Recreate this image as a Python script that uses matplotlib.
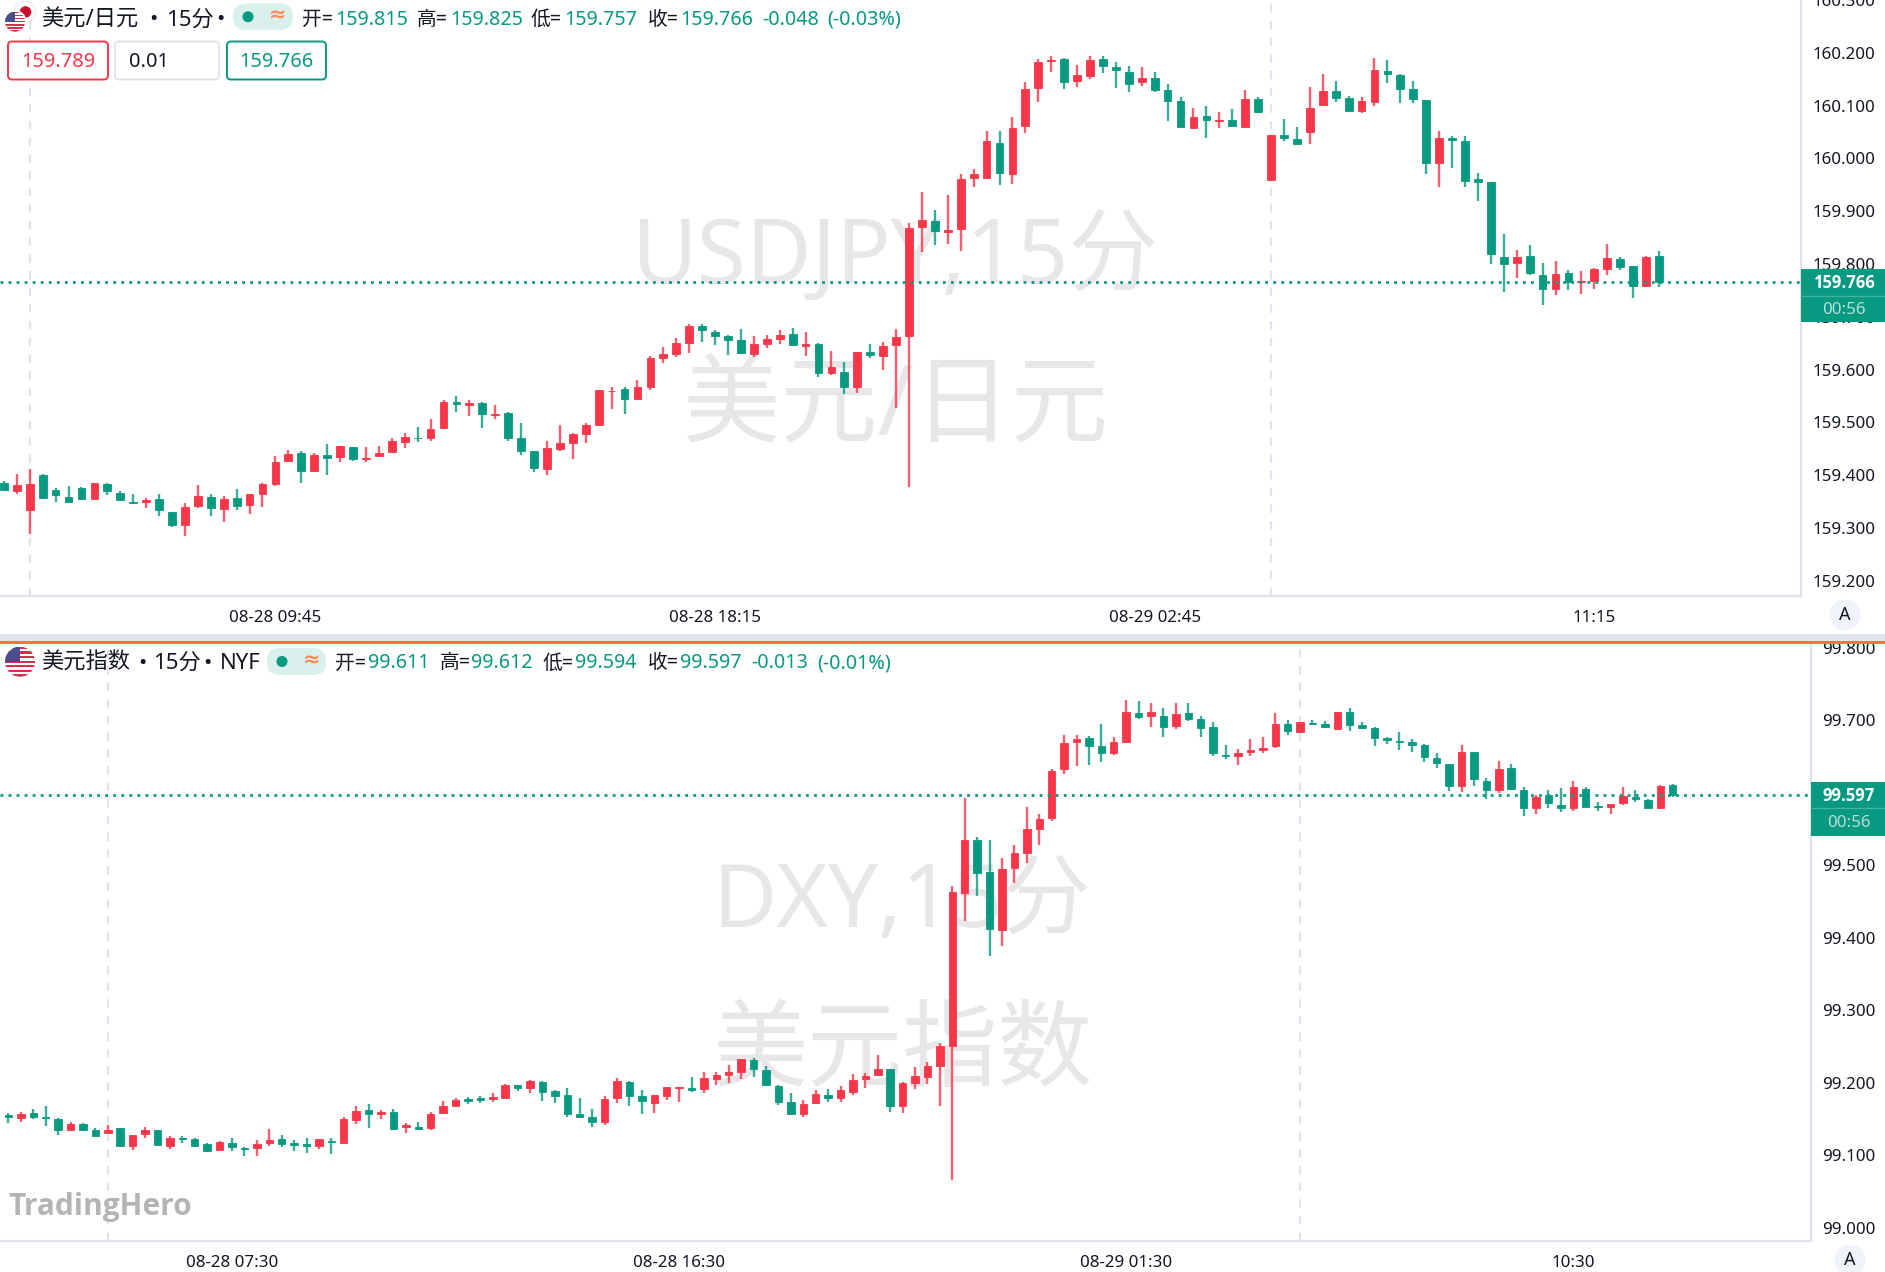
import numpy as np
import matplotlib
matplotlib.use('Agg')
import matplotlib.pyplot as plt
from matplotlib.patches import Circle, FancyBboxPatch, Rectangle

plt.rcParams['font.family'] = ['Noto Sans', 'Noto Sans CJK SC', 'DejaVu Sans']

usdjpy_open = [
  159.386,159.370,159.333,159.400,159.372,159.359,159.376,159.355,159.384,159.367,
  159.350,159.350,159.354,159.331,159.305,159.341,159.359,159.336,159.356,159.343,
  159.364,159.384,159.427,159.441,159.407,159.439,159.435,159.454,159.430,159.436,
  159.444,159.463,159.471,159.471,159.490,159.539,159.533,159.537,159.514,159.517,
  159.470,159.445,159.412,159.449,159.460,159.478,159.494,159.559,159.563,159.545,
  159.567,159.621,159.629,159.651,159.683,159.672,159.664,159.655,159.629,159.648,
  159.657,159.667,159.645,159.648,159.594,159.595,159.566,159.633,159.625,159.646,
  159.664,159.870,159.881,159.861,159.866,159.963,159.962,160.030,159.971,160.061,
  160.133,160.184,160.189,160.146,160.156,160.189,160.174,160.163,160.144,160.152,
  160.129,160.108,160.058,160.080,160.070,160.073,160.060,160.112,159.959,160.045,
  160.037,160.050,160.102,160.128,160.115,160.089,160.106,160.166,160.158,160.131,
  160.110,159.992,160.038,160.033,159.960,159.955,159.813,159.801,159.816,159.780,
  159.753,159.782,159.765,159.767,159.791,159.810,159.796,159.759,159.815]
usdjpy_high = [
  159.389,159.403,159.412,159.403,159.375,159.379,159.377,159.385,159.385,159.369,
  159.364,159.357,159.365,159.331,159.348,159.381,159.365,159.361,159.374,159.365,
  159.386,159.436,159.447,159.446,159.441,159.459,159.455,159.454,159.453,159.455,
  159.471,159.480,159.492,159.506,159.543,159.550,159.543,159.538,159.533,159.519,
  159.498,159.446,159.465,159.495,159.479,159.499,159.562,159.567,159.567,159.580,
  159.626,159.643,159.660,159.686,159.686,159.675,159.665,159.677,159.663,159.665,
  159.675,159.679,159.671,159.650,159.635,159.614,159.634,159.648,159.653,159.676,
  159.878,159.937,159.903,159.930,159.970,159.979,160.051,160.051,160.079,160.145,
  160.189,160.194,160.191,160.176,160.194,160.194,160.182,160.175,160.173,160.163,
  160.141,160.116,160.095,160.099,160.088,160.093,160.129,160.116,160.045,160.074,
  160.059,160.136,160.160,160.146,160.119,160.117,160.190,160.186,160.159,160.146,
  160.110,160.052,160.043,160.043,159.972,159.955,159.856,159.826,159.835,159.801,
  159.806,159.789,159.787,159.792,159.837,159.814,159.796,159.816,159.825]
usdjpy_low = [
  159.371,159.364,159.288,159.354,159.350,159.350,159.352,159.355,159.362,159.353,
  159.345,159.338,159.323,159.302,159.285,159.338,159.323,159.312,159.334,159.326,
  159.340,159.380,159.424,159.386,159.406,159.401,159.424,159.426,159.425,159.434,
  159.441,159.451,159.463,159.465,159.487,159.519,159.512,159.490,159.506,159.465,
  159.439,159.406,159.400,159.446,159.431,159.461,159.494,159.525,159.516,159.545,
  159.562,159.612,159.624,159.631,159.652,159.646,159.628,159.630,159.624,159.640,
  159.648,159.646,159.626,159.586,159.590,159.554,159.556,159.622,159.599,159.527,
  159.378,159.822,159.836,159.837,159.824,159.945,159.962,159.949,159.952,160.049,
  160.106,160.163,160.131,160.135,160.150,160.162,160.133,160.125,160.138,160.125,
  160.070,160.059,160.058,160.039,160.058,160.060,160.059,160.085,159.958,160.032,
  160.027,160.028,160.102,160.106,160.089,160.086,160.100,160.142,160.105,160.105,
  159.970,159.946,159.981,159.946,159.920,159.799,159.746,159.773,159.780,159.723,
  159.741,159.751,159.743,159.753,159.779,159.789,159.736,159.758,159.757]
usdjpy_close = [
  159.371,159.381,159.383,159.357,159.362,159.350,159.355,159.385,159.369,159.353,
  159.347,159.353,159.333,159.306,159.340,159.360,159.337,159.355,159.341,159.364,
  159.384,159.425,159.440,159.408,159.438,159.433,159.455,159.430,159.433,159.442,
  159.464,159.472,159.470,159.488,159.539,159.535,159.536,159.516,159.516,159.470,
  159.445,159.413,159.452,159.460,159.478,159.494,159.561,159.560,159.544,159.566,
  159.622,159.629,159.650,159.682,159.674,159.664,159.655,159.632,159.648,159.657,
  159.665,159.646,159.648,159.594,159.604,159.567,159.633,159.627,159.645,159.662,
  159.869,159.883,159.863,159.864,159.960,159.970,160.032,159.973,160.057,160.131,
  160.182,160.187,160.144,160.157,160.187,160.175,160.167,160.141,160.152,160.129,
  160.108,160.059,160.078,160.073,160.073,160.062,160.112,160.087,160.045,160.038,
  160.028,160.095,160.127,160.115,160.090,160.108,160.167,160.160,160.131,160.112,
  159.991,160.038,160.034,159.958,159.955,159.818,159.799,159.814,159.782,159.753,
  159.781,159.766,159.767,159.791,159.811,159.795,159.759,159.813,159.766]

dxy_open = [
  99.155,99.151,99.158,99.153,99.149,99.134,99.143,99.134,99.131,99.137,
  99.113,99.129,99.134,99.113,99.123,99.122,99.115,99.107,99.117,99.109,
  99.109,99.117,99.122,99.116,99.115,99.113,99.120,99.116,99.148,99.162,
  99.156,99.160,99.138,99.139,99.137,99.158,99.168,99.177,99.178,99.177,
  99.179,99.196,99.193,99.201,99.188,99.183,99.157,99.152,99.145,99.178,
  99.201,99.182,99.172,99.182,99.193,99.193,99.191,99.205,99.211,99.215,
  99.231,99.217,99.195,99.173,99.156,99.172,99.183,99.178,99.187,99.205,
  99.210,99.218,99.168,99.200,99.208,99.223,99.250,99.462,99.535,99.490,
  99.410,99.496,99.516,99.549,99.565,99.632,99.670,99.675,99.664,99.655,
  99.670,99.710,99.705,99.706,99.692,99.710,99.702,99.690,99.652,99.651,
  99.656,99.658,99.664,99.694,99.684,99.696,99.695,99.688,99.711,99.693,
  99.689,99.675,99.671,99.669,99.666,99.648,99.639,99.609,99.656,99.616,
  99.603,99.634,99.604,99.579,99.596,99.583,99.579,99.605,99.581,99.580,
  99.585,99.594,99.589,99.579,99.611]
dxy_high = [
  99.158,99.160,99.163,99.168,99.151,99.145,99.144,99.137,99.141,99.137,
  99.127,99.138,99.134,99.126,99.126,99.123,99.116,99.119,99.123,99.111,
  99.121,99.136,99.128,99.121,99.124,99.122,99.124,99.152,99.168,99.170,
  99.162,99.163,99.144,99.145,99.160,99.174,99.178,99.180,99.181,99.185,
  99.198,99.197,99.203,99.202,99.190,99.193,99.179,99.164,99.182,99.206,
  99.202,99.190,99.183,99.194,99.194,99.208,99.214,99.215,99.224,99.232,
  99.234,99.223,99.197,99.185,99.176,99.190,99.191,99.195,99.212,99.213,
  99.238,99.219,99.201,99.222,99.228,99.254,99.471,99.593,99.538,99.535,
  99.509,99.527,99.580,99.571,99.633,99.679,99.679,99.678,99.695,99.677,
  99.727,99.726,99.723,99.717,99.723,99.724,99.706,99.697,99.665,99.660,
  99.674,99.676,99.709,99.700,99.697,99.700,99.698,99.711,99.716,99.697,
  99.690,99.677,99.683,99.674,99.667,99.655,99.639,99.665,99.656,99.620,
  99.643,99.640,99.608,99.596,99.603,99.606,99.616,99.607,99.587,99.584,
  99.608,99.603,99.591,99.610,99.612]
dxy_low = [
  99.144,99.146,99.150,99.140,99.127,99.134,99.133,99.126,99.131,99.113,
  99.107,99.124,99.114,99.108,99.117,99.111,99.104,99.105,99.105,99.099,
  99.099,99.113,99.111,99.105,99.103,99.108,99.101,99.116,99.143,99.137,
  99.149,99.135,99.131,99.135,99.135,99.156,99.168,99.171,99.172,99.173,
  99.178,99.188,99.186,99.174,99.172,99.152,99.151,99.139,99.142,99.172,
  99.168,99.157,99.158,99.176,99.173,99.187,99.186,99.197,99.200,99.205,
  99.207,99.196,99.169,99.155,99.152,99.170,99.173,99.173,99.183,99.193,
  99.209,99.159,99.158,99.191,99.198,99.168,99.065,99.423,99.457,99.374,
  99.388,99.475,99.503,99.527,99.561,99.625,99.637,99.638,99.642,99.652,
  99.669,99.702,99.691,99.677,99.687,99.698,99.677,99.651,99.646,99.638,
  99.651,99.655,99.662,99.680,99.683,99.694,99.689,99.688,99.685,99.687,
  99.664,99.667,99.658,99.656,99.642,99.634,99.602,99.601,99.609,99.591,
  99.600,99.603,99.567,99.570,99.579,99.573,99.574,99.580,99.574,99.570,
  99.583,99.587,99.578,99.578,99.594]
dxy_close = [
  99.153,99.157,99.152,99.151,99.134,99.143,99.135,99.126,99.134,99.113,
  99.127,99.134,99.114,99.124,99.122,99.113,99.106,99.118,99.111,99.108,
  99.115,99.121,99.115,99.114,99.113,99.122,99.118,99.149,99.161,99.157,
  99.159,99.136,99.141,99.136,99.157,99.167,99.176,99.175,99.176,99.180,
  99.197,99.193,99.202,99.187,99.182,99.157,99.153,99.146,99.177,99.202,
  99.181,99.174,99.183,99.194,99.194,99.189,99.206,99.211,99.214,99.232,
  99.219,99.197,99.173,99.156,99.171,99.184,99.178,99.189,99.203,99.209,
  99.219,99.168,99.199,99.209,99.223,99.251,99.463,99.534,99.489,99.412,
  99.494,99.517,99.550,99.563,99.629,99.668,99.674,99.664,99.654,99.670,
  99.711,99.704,99.711,99.691,99.708,99.702,99.689,99.654,99.650,99.654,
  99.658,99.662,99.695,99.685,99.697,99.694,99.690,99.711,99.693,99.689,
  99.675,99.672,99.670,99.666,99.649,99.641,99.609,99.656,99.618,99.603,
  99.633,99.605,99.578,99.594,99.585,99.578,99.607,99.580,99.580,99.584,
  99.595,99.591,99.579,99.609,99.597]

usdjpy_ticks = [159.2,159.3,159.4,159.5,159.6,159.7,159.8,159.9,160.0,160.1,160.2,160.3]
dxy_ticks = [99.0,99.1,99.2,99.3,99.4,99.5,99.6,99.7,99.8]
usdjpy_time_pos = [21, 55, 89, 123]
usdjpy_time_labels = ['08-28 09:45', '08-28 18:15', '08-29 02:45', '11:15']
dxy_time_pos = [18, 54, 90, 126]
dxy_time_labels = ['08-28 07:30', '08-28 16:30', '08-29 01:30', '10:30']
usdjpy_day_lines = [2, 98]
dxy_day_lines = [8, 104]
usdjpy_last = 159.766
dxy_last = 99.597

RED = '#f7364a'
GREEN = '#089981'
GRID = '#e0e3eb'
WATER = '#e7e7e9'
W, H = 1885, 1272

fig = plt.figure(figsize=(W/100, H/100), dpi=100, facecolor='white')

def add_pane(x0, x1, y0, y1):
  ax = fig.add_axes([x0/W, 1-y1/H, (x1-x0)/W, (y1-y0)/H])
  for s in ['top', 'left']:
    ax.spines[s].set_visible(False)
  for s in ['right', 'bottom']:
    ax.spines[s].set_color(GRID)
    ax.spines[s].set_linewidth(1.6)
  ax.yaxis.tick_right()
  return ax

def candles(ax, o, h, l, c, lastp):
  o, h, l, c = map(np.array, (o, h, l, c))
  idx = np.arange(len(o))
  colors = np.where(c >= o, RED, GREEN)
  ax.vlines(idx, l, h, colors=list(colors), linewidth=1.7, alpha=0.8, zorder=3)
  bottoms = np.minimum(o, c)
  heights = np.abs(c-o)
  ax.bar(idx, heights, bottom=bottoms, width=0.6, color=list(colors), zorder=4,
         edgecolor=list(colors), linewidth=0.6)
  ax.axhline(lastp, color=GREEN, lw=2, ls=(0, (1, 1.9)), zorder=5)

def style_axis(ax, yticks, yfmt, tpos, tlabels, ylim, xlim, daylines, pad):
  ax.set_xlim(xlim)
  ax.set_ylim(ylim)
  ax.set_yticks(yticks)
  ax.set_yticklabels([yfmt % v for v in yticks])
  ax.set_xticks(tpos)
  ax.set_xticklabels(tlabels)
  ax.tick_params(axis='y', length=0, pad=pad, labelsize=12.2, labelcolor='#131722')
  ax.tick_params(axis='x', length=0, pad=10, labelsize=12.2, labelcolor='#131722')
  for d in daylines:
    ax.axvline(d, color=GRID, lw=1.5, ls=(0, (4, 4)), zorder=1)

ax1 = add_pane(0, 1801, 0, 596)
ax2 = add_pane(0, 1811, 642, 1241)
candles(ax1, usdjpy_open, usdjpy_high, usdjpy_low, usdjpy_close, usdjpy_last)
candles(ax2, dxy_open, dxy_high, dxy_low, dxy_close, dxy_last)
style_axis(ax1, usdjpy_ticks, '%.3f', usdjpy_time_pos, usdjpy_time_labels,
           (159.171, 160.300), (-0.30, 138.985), usdjpy_day_lines, 8.6)
style_axis(ax2, dxy_ticks, '%.3f', dxy_time_pos, dxy_time_labels,
           (98.9814, 99.8076), (-0.68, 145.14), dxy_day_lines, 8)

# everything below is screen furniture placed in pixels
ui = fig.add_axes([0, 0, 1, 1], zorder=10)
ui.set_xlim(0, W)
ui.set_ylim(H, 0)
ui.axis('off')
ui.patch.set_alpha(0)

# watermarks go behind the candles, in the pane axes
ax1.text(896, 259, 'USDJPY,15分', transform=ui.transData, ha='center', va='center',
         fontsize=64.7, color=WATER, zorder=0)
ax1.text(896, 409, '美元/日元', transform=ui.transData, ha='center', va='center',
         fontsize=70, color=WATER, zorder=0)
ax2.text(902, 904, 'DXY,15分', transform=ui.transData, ha='center', va='center',
         fontsize=63.5, color=WATER, zorder=0)
ax2.text(902, 1054, '美元指数', transform=ui.transData, ha='center', va='center',
         fontsize=68.5, color=WATER, zorder=0)

ui.add_patch(Rectangle((0, 634), W, 7, color=GRID, lw=0))
ui.add_patch(Rectangle((0, 640.7), W, 3, color='#ff7043', lw=0))

def us_flag(cx, cy, r):
  clip = Circle((cx, cy), r, transform=ui.transData)
  ui.add_patch(Circle((cx, cy), r, color='white', lw=0, zorder=3))
  n = 7
  for k in range(n):
    yy = cy-r+(2*k+0.0)*r*2/(2*n-1)
    p = Rectangle((cx-r, yy), 2*r, r*2/(2*n-1), color='#d8324a', lw=0, zorder=3)
    ui.add_patch(p)
    p.set_clip_path(clip)
  p = Rectangle((cx-r, cy-r), r, r, color='#4a4f8c', lw=0, zorder=3)
  ui.add_patch(p)
  p.set_clip_path(clip)

ui.add_patch(Circle((25, 12), 10.5, color='white', ec='#e8e8e8', lw=0.8, zorder=2))
ui.add_patch(Circle((25.5, 12), 5.8, color='#c8102e', lw=0, zorder=2))
ui.add_patch(Circle((15, 21.7), 11.5, color='white', lw=0, zorder=2.5))
us_flag(15, 21.7, 10)
us_flag(20, 661.7, 15)

def pill(x0, x1, y0, y1, dot, wave):
  ui.add_patch(FancyBboxPatch((x0+13, y0+13), x1-x0-26, y1-y0-26, boxstyle='round,pad=13',
                              fc='#d9f0ec', ec='none', zorder=2))
  ui.add_patch(Circle((dot, (y0+y1)/2), 5.5, color=GREEN, lw=0, zorder=3))
  ui.text(wave, (y0+y1)/2-1, '≈', color='#ff8a5c', fontsize=15, fontweight='bold',
          ha='center', va='center', zorder=3, family=['DejaVu Sans'])

pill(233, 293, 3.5, 30, 248, 278)
pill(267, 326, 648, 675, 282, 312)

def row(y, items, size=14.2):
  for x, s, col in items:
    ui.text(x, y, s, color=col, fontsize=size, ha='left', va='center')

INK = '#131722'
row(20, [(41, '美元/日元', INK), (149, '•', INK), (166, '15分', INK), (216, '•', INK)], 16)
row(20, [(302, '开=', INK), (335, '159.815', GREEN),
         (417, '高=', INK), (450, '159.825', GREEN),
         (531, '低=', INK), (564, '159.757', GREEN),
         (648, '收=', INK), (680, '159.766', GREEN),
         (762, '-0.048', GREEN), (827, '(-0.03%)', GREEN)])
row(663.5, [(41, '美元指数', INK), (138, '•', INK), (153, '15分', INK), (203, '•', INK),
            (220, 'NYF', INK)], 16)
row(663.5, [(335, '开=', INK), (368, '99.611', GREEN),
            (440, '高=', INK), (471, '99.612', GREEN),
            (543, '低=', INK), (575, '99.594', GREEN),
            (648, '收=', INK), (680, '99.597', GREEN),
            (751, '-0.013', GREEN), (817, '(-0.01%)', GREEN)])

def button(x0, x1, ec, label, col, tx, ha):
  ui.add_patch(FancyBboxPatch((x0+4, 45.5), x1-x0-8, 30, boxstyle='round,pad=4',
                              fc='white', ec=ec, lw=1.4, zorder=2))
  ui.text(tx, 62, label, color=col, fontsize=14.4, ha=ha, va='center', zorder=3)

button(8, 108, RED, '159.789', RED, 58, 'center')
button(115, 219, GRID, '0.01', INK, 129, 'left')
button(227, 326, GREEN, '159.766', GREEN, 276, 'center')

# last price tags on the price scale
def price_tag(x0, y0, y1, ysep, label, cd):
  ui.add_patch(Rectangle((x0, y0), W-x0, y1-y0, color=GREEN, lw=0, zorder=2))
  ui.plot([x0, W], [ysep, ysep], color='#3fb3a0', lw=1, zorder=3)
  xc = (x0+W)/2+1
  ui.text(xc, (y0+ysep)/2+1, label, color='white', fontsize=12, fontweight='bold',
          ha='center', va='center', zorder=3, family=['Open Sans', 'DejaVu Sans'])
  ui.text(xc, (ysep+y1)/2+1, cd, color='#b5e0d9', fontsize=12.2, ha='center', va='center', zorder=3)

price_tag(1801, 268.7, 322, 295.7, '%.3f' % usdjpy_last, '00:56')
price_tag(1811, 781.7, 835.7, 808, '%.3f' % dxy_last, '00:56')

# auto scale buttons
for cx, cy in [(1845, 615), (1850, 1260)]:
  ui.add_patch(Circle((cx, cy), 15.5, color='#f0f3fa', lw=0, zorder=2))
  ui.text(cx, cy, 'A', color=INK, fontsize=13, ha='center', va='center', zorder=3)

ui.text(8, 1207, 'TradingHero', color='#b4b4b4', fontsize=21.5, fontweight='bold',
        ha='left', va='center', family=['Open Sans', 'DejaVu Sans'])

fig.savefig('out.png', dpi=100)
